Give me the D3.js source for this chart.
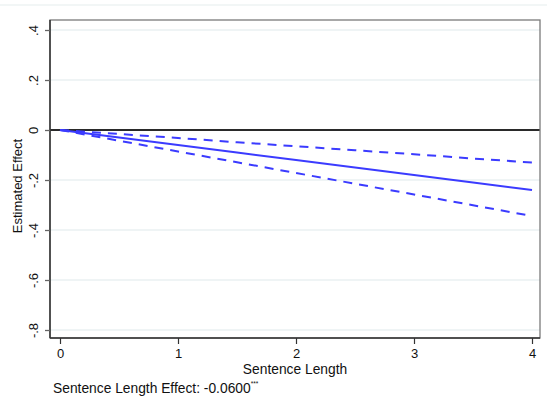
<!DOCTYPE html>
<html>
<head>
<meta charset="utf-8">
<script src="https://cdn.jsdelivr.net/npm/d3@7"></script>
<style>
  body { margin: 0; background: #fff; }
  svg { display: block; font-family: "Liberation Sans", Arial, sans-serif; }
</style>
</head>
<body>
<svg id="chart" width="547" height="409"></svg>
<script>
// Data
const sentenceLength = [0, 0.5, 1, 1.5, 2, 2.5, 3, 3.5, 4];
const estimate = [0, -0.030, -0.060, -0.090, -0.120, -0.150, -0.180, -0.210, -0.240];
const upperCI  = [0, -0.016, -0.032, -0.049, -0.065, -0.081, -0.097, -0.114, -0.130];
const lowerCI  = [0, -0.043, -0.086, -0.129, -0.172, -0.215, -0.258, -0.301, -0.344];
const yTicks = [0.4, 0.2, 0, -0.2, -0.4, -0.6, -0.8];
const yTickLabels = [".4", ".2", "0", "-.2", "-.4", "-.6", "-.8"];
const xTicks = [0, 1, 2, 3, 4];
const xTickLabels = ["0", "1", "2", "3", "4"];
const yTitle = "Estimated Effect";
const xTitle = "Sentence Length";
const note = "Sentence Length Effect: -0.0600";
const noteStars = "***";

const svg = d3.select("#chart");
const frame = { left: 50, top: 20, right: 540, bottom: 338 };

const x = d3.scaleLinear().domain([0, 4]).range([60, 532]);
const y = d3.scaleLinear().domain([-0.8, 0.4]).range([330, 30]);

// faint top border line
svg.append("line").attr("x1", 0).attr("x2", 547).attr("y1", 5).attr("y2", 5)
  .attr("stroke", "#eef3f3").attr("stroke-width", 1.5);

// gridlines
svg.append("g").selectAll("line").data(yTicks.filter(d => d !== 0)).join("line")
  .attr("x1", frame.left).attr("x2", frame.right)
  .attr("y1", d => y(d)).attr("y2", d => y(d))
  .attr("stroke", "#eaf1f2").attr("stroke-width", 1.5);

// zero line
svg.append("line").attr("x1", frame.left).attr("x2", frame.right)
  .attr("y1", y(0)).attr("y2", y(0))
  .attr("stroke", "#2a2a2a").attr("stroke-width", 1.8);

// frame
svg.append("rect").attr("x", frame.left).attr("y", frame.top)
  .attr("width", frame.right - frame.left).attr("height", frame.bottom - frame.top)
  .attr("fill", "none").attr("stroke", "#7a7a7a").attr("stroke-width", 1.3);
svg.append("line").attr("x1", frame.left).attr("x2", frame.left)
  .attr("y1", frame.top).attr("y2", frame.bottom)
  .attr("stroke", "#222").attr("stroke-width", 1.3);
svg.append("line").attr("x1", frame.left).attr("x2", frame.right)
  .attr("y1", frame.bottom).attr("y2", frame.bottom)
  .attr("stroke", "#333").attr("stroke-width", 1.5);

// y axis
const yAxis = d3.axisLeft(y).tickValues(yTicks).tickSize(5)
  .tickFormat((d, i) => yTickLabels[i]);
const gy = svg.append("g").attr("transform", `translate(${frame.left},0)`).call(yAxis);
gy.select(".domain").remove();
gy.selectAll(".tick line").attr("stroke", "#666").attr("stroke-width", 1.3);
gy.selectAll(".tick text")
  .attr("x", 0).attr("dy", 0)
  .attr("transform", "translate(-12,0) rotate(-90)")
  .attr("text-anchor", "middle")
  .attr("font-size", 13).attr("fill", "#111")
  .attr("font-family", "Liberation Sans, Arial, sans-serif");

// x axis
const xAxis = d3.axisBottom(x).tickValues(xTicks).tickSize(6)
  .tickFormat((d, i) => xTickLabels[i]);
const gx = svg.append("g").attr("transform", `translate(0,${frame.bottom})`).call(xAxis);
gx.select(".domain").remove();
gx.selectAll(".tick line").attr("stroke", "#333").attr("stroke-width", 1.2);
gx.selectAll(".tick text").attr("y", 11).attr("font-size", 13).attr("fill", "#111")
  .attr("font-family", "Liberation Sans, Arial, sans-serif");

// titles
svg.append("text").attr("transform", `translate(22,${(frame.top + frame.bottom) / 2 + 7}) rotate(-90)`)
  .attr("text-anchor", "middle").attr("font-size", 13).attr("fill", "#111").text(yTitle);
svg.append("text").attr("x", 295).attr("y", 374)
  .attr("text-anchor", "middle").attr("font-size", 13.8).attr("fill", "#111").text(xTitle);
const nt = svg.append("text").attr("x", 53).attr("y", 393)
  .attr("font-size", 13.8).attr("fill", "#111").text(note);
nt.append("tspan").attr("dy", -7).attr("font-size", 6.5).text(noteStars);

// lines
const rows = sentenceLength.map((s, i) => ({ s, est: estimate[i], up: upperCI[i], lo: lowerCI[i] }));
const mk = key => d3.line().x(d => x(d.s)).y(d => y(d[key]));
const blue = "#3b3bff";
svg.append("path").datum(rows).attr("d", mk("up"))
  .attr("fill", "none").attr("stroke", blue).attr("stroke-width", 2)
  .attr("stroke-dasharray", "9,7");
svg.append("path").datum(rows).attr("d", mk("lo"))
  .attr("fill", "none").attr("stroke", blue).attr("stroke-width", 2)
  .attr("stroke-dasharray", "9,7");
svg.append("path").datum(rows).attr("d", mk("est"))
  .attr("fill", "none").attr("stroke", blue).attr("stroke-width", 2);
</script>
</body>
</html>
